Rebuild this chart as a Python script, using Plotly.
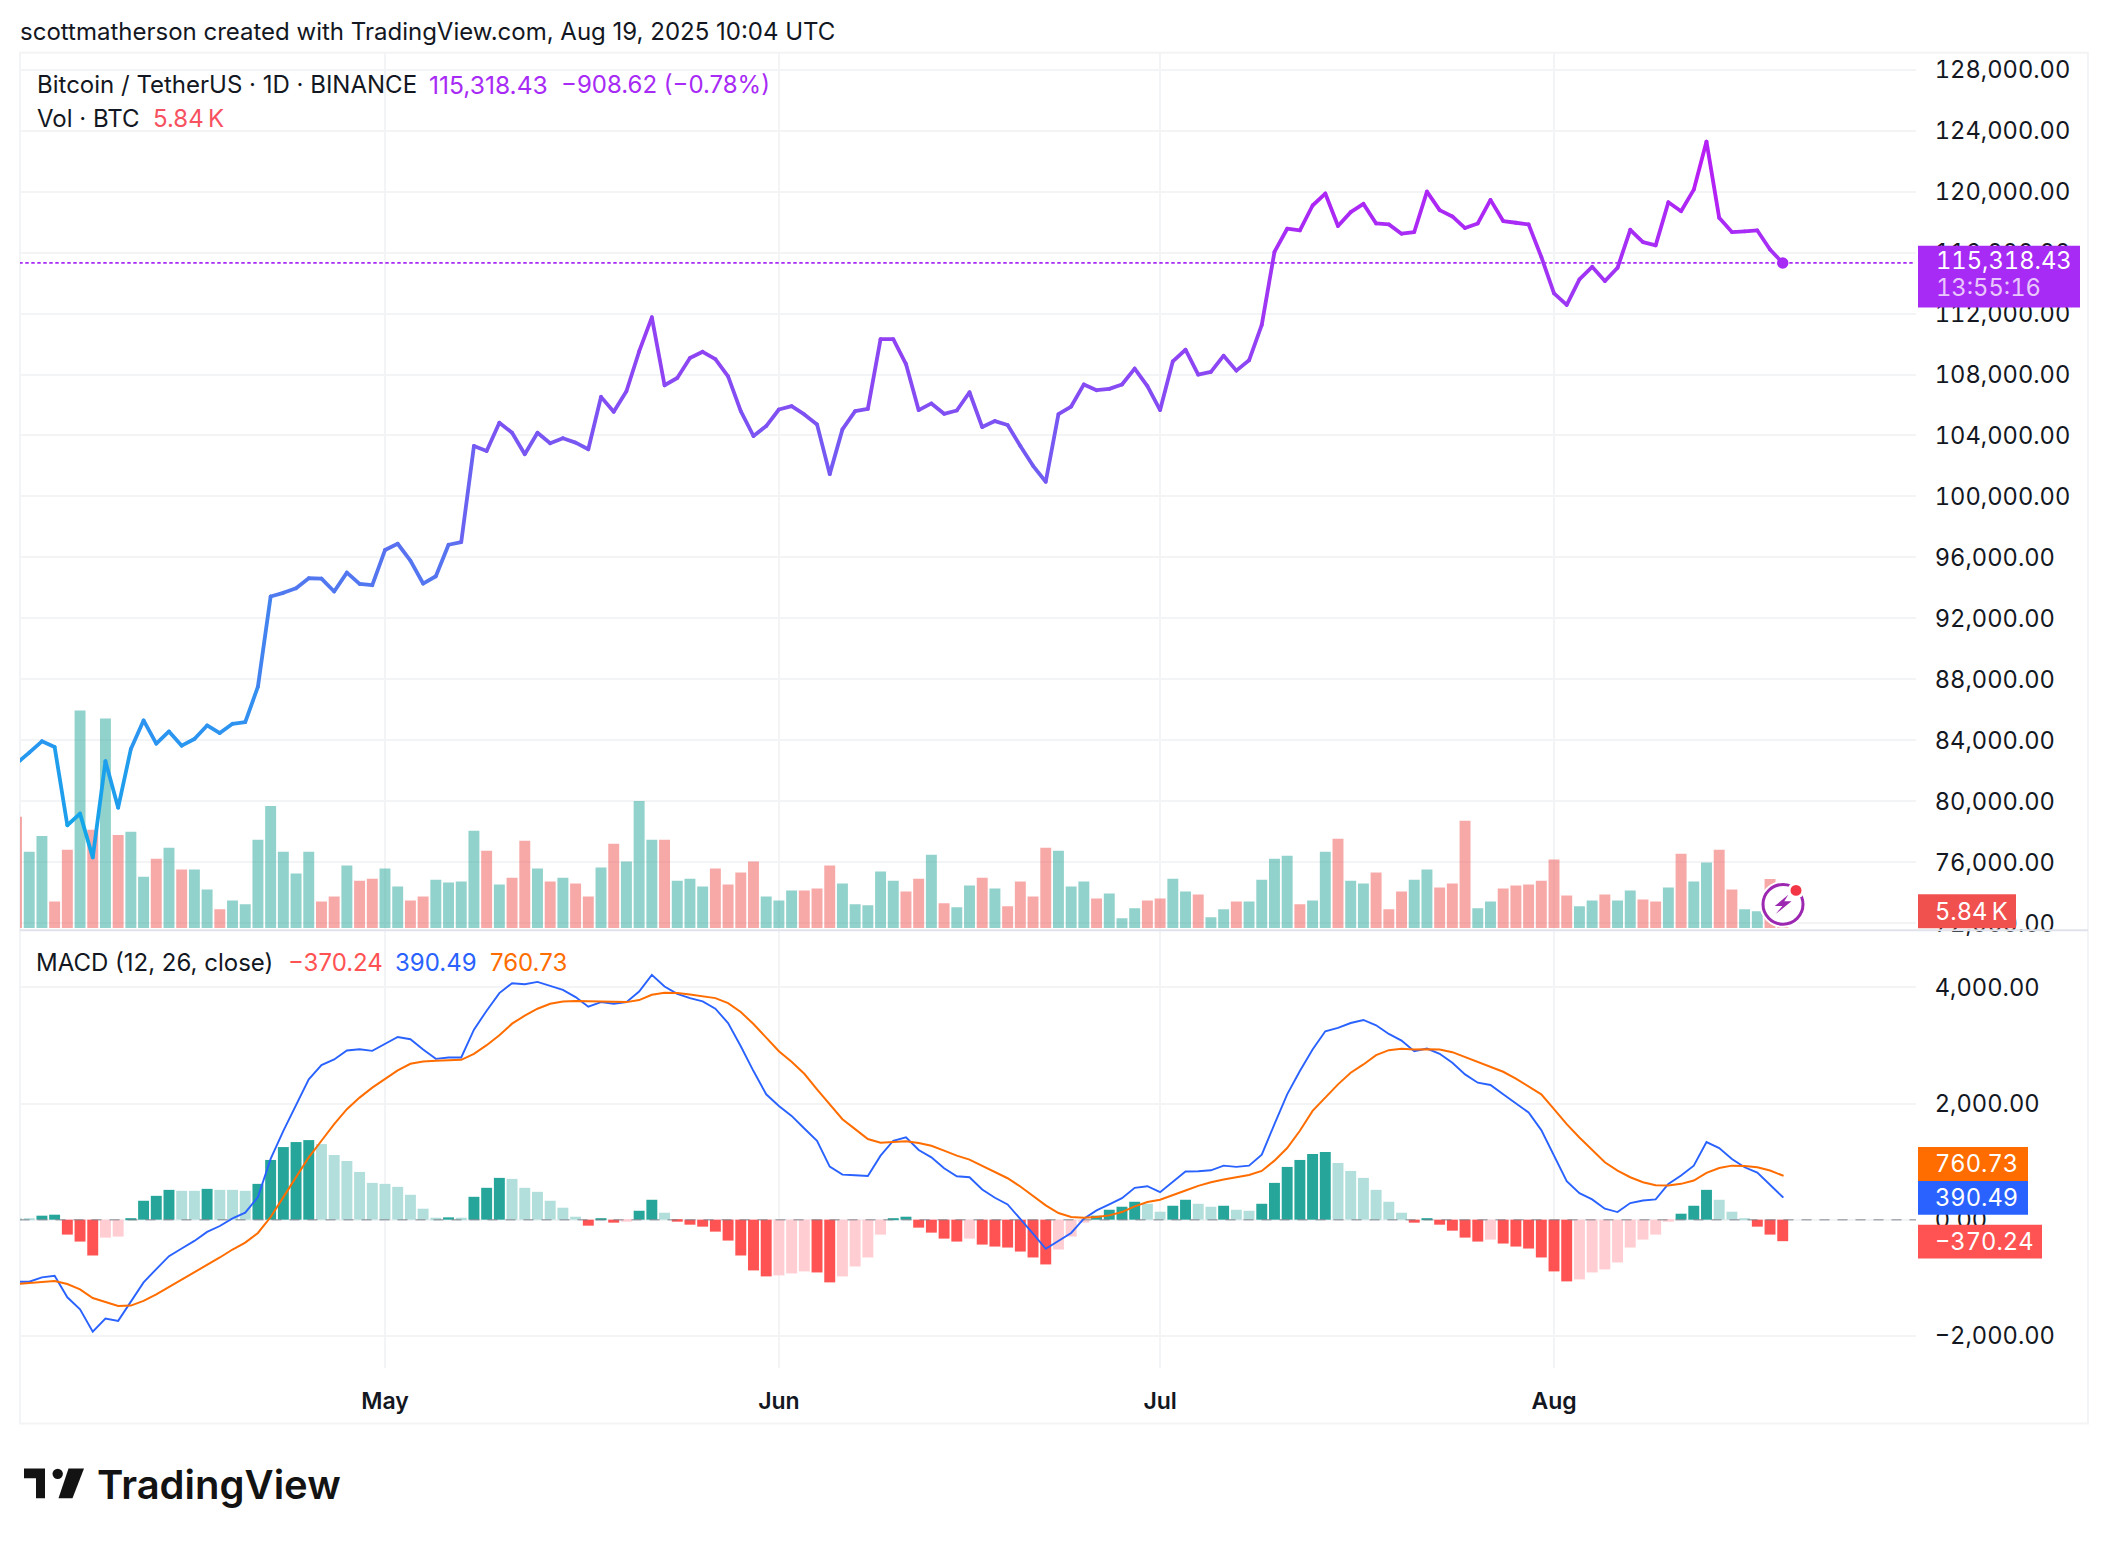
import pandas as pd
import plotly.graph_objects as go

W, H = 2108, 1552

month_ticks = ["2025-05-01", "2025-06-01", "2025-07-01", "2025-08-01"]
month_labels = ["May", "Jun", "Jul", "Aug"]
price_ticks = list(range(72000, 128001, 4000))
macd_ticks = [-2000, 0, 2000, 4000]

# daily closes, 2 Apr to 19 Aug 2025
close_apr = [82478, 83195, 83935, 83565, 78432, 79193, 76322, 82630, 79585, 83435, 85305, 83782, 84587, 83652,
             84087, 84979, 84478, 85088, 85196, 87524, 93440, 93679, 93983, 94636, 94614, 93766, 95006, 94266, 94179]
close_may = [96485, 96898, 95789, 94288, 94766, 96833, 97007, 103314, 102988, 104836, 104184, 102770, 104184, 103488,
             103814, 103532, 103096, 106533, 105554, 106902, 109512, 111753, 107294, 107772, 109078, 109491, 109013,
             107881, 105597, 103966, 104619]
close_jun = [105706, 105924, 105380, 104727, 101465, 104401, 105597, 105750, 110318, 110318, 108686, 105663, 106102,
             105423, 105641, 106837, 104553, 104945, 104684, 103314, 102009, 100965, 105400, 105900, 107350, 106972,
             107059, 107341, 108386, 107233]
close_jul = [105667, 108864, 109625, 107994, 108168, 109234, 108255, 108929, 111256, 116042, 117564, 117455, 119087,
             119870, 117738, 118652, 119195, 117912, 117847, 117238, 117347, 120000, 118782, 118369, 117608, 117912,
             119456, 118064, 117955, 117847, 115715]
close_aug = [113323, 112562, 114236, 115063, 114128, 115000, 117495, 116690, 116472, 119300, 118713, 120127, 123280,
             118278, 117342, 117386, 117451, 116200, 115318.43]

# volume in thousands of BTC
vol_apr = [44.2, 30.3, 36.6, 10.5, 31.1, 86.5, 39.0, 83.3, 37.0, 38.2, 20.4, 27.5, 31.9, 23.2, 23.2, 15.3, 7.4, 10.9,
           9.4, 35.1, 48.5, 30.3, 21.6, 30.3, 10.5, 12.5, 24.8, 18.8, 19.6]
vol_may = [23.6, 16.5, 10.9, 12.5, 19.2, 18.1, 18.5, 38.6, 30.7, 17.3, 20.0, 34.7, 23.6, 18.5, 20.0, 17.7, 12.5, 24.0,
           33.5, 26.4, 50.5, 35.1, 35.1, 18.8, 19.6, 16.5, 23.6, 17.3, 22.0, 26.4, 12.5]
vol_jun = [10.9, 14.9, 14.9, 15.7, 24.8, 17.7, 9.4, 9.0, 22.4, 18.8, 14.5, 19.6, 29.1, 9.8, 8.2, 16.9, 20.0, 15.7, 8.6,
           18.5, 12.5, 31.9, 30.7, 16.5, 18.5, 11.7, 13.7, 3.8, 7.8, 10.9]
vol_jul = [11.7, 19.6, 14.5, 13.3, 4.2, 7.4, 10.5, 10.5, 19.2, 27.5, 28.7, 9.4, 10.9, 30.3, 35.5, 18.8, 17.7, 22.0, 7.4,
           14.5, 19.2, 23.2, 16.1, 17.7, 42.6, 7.8, 10.5, 15.7, 16.9, 17.3, 18.8]
vol_aug = [27.2, 12.9, 8.6, 10.9, 13.3, 10.9, 14.9, 11.3, 10.5, 16.1, 29.5, 18.5, 26.0, 31.1, 15.3, 7.4, 6.6, 19.5, 5.84]
vol_dir = ("rggrrgrgrggrgrggrgggggggrrgrr" "ggrrggggrgrrgrgrrgrgggrgggrrrrg" "ggrrrgggggrrgrggrgrrrrgggrgggr"
           "rggrggrggggrggrggrrrggrrrggrrrr" "rrggrggrrgrggrrggrr")

macd_line = [-1069, -1069, -994, -966, -1337, -1543, -1931, -1703, -1743, -1411, -1080, -851, -629, -497, -366, -211,
             -109, 23, 120, 389, 1046, 1531, 1988, 2417, 2663, 2760, 2914, 2937, 2908,
             3028, 3148, 3108, 2931, 2771, 2794, 2794, 3274, 3600, 3903, 4074, 4057, 4097, 4034, 3960, 3834, 3668,
             3748, 3720, 3748, 3931, 4217, 4017, 3891, 3817, 3760, 3634, 3388, 2988, 2560, 2160,
             1960, 1788, 1571, 1360, 914, 777, 766, 754, 1103, 1360, 1417, 1200, 1074, 886, 749, 731, 520, 377, 263,
             17, -240, -503, -366, -229, 17, 160, 263, 371, 549, 577,
             474, 657, 829, 834, 851, 931, 909, 931, 1120, 1646, 2160, 2560, 2931, 3246, 3303, 3388, 3440, 3348, 3200,
             3086, 2903, 2948, 2857, 2703, 2503, 2360, 2320, 2160, 2000, 1846, 1543,
             1103, 663, 457, 349, 189, 131, 286, 331, 349, 617, 760, 931, 1337, 1234, 1046, 903, 811, 606, 390.49]
signal_line = [-1109, -1097, -1074, -1057, -1109, -1200, -1349, -1417, -1486, -1480, -1400, -1286, -1160, -1029, -897,
               -777, -651, -514, -394, -229, 46, 389, 731, 1074, 1360, 1646, 1903, 2103, 2274,
               2417, 2571, 2686, 2726, 2737, 2743, 2754, 2857, 3006, 3177, 3377, 3514, 3634, 3720, 3760, 3766, 3760,
               3754, 3743, 3748, 3783, 3874, 3908, 3903, 3880, 3851, 3817, 3731, 3577, 3371, 3131,
               2903, 2720, 2514, 2246, 1988, 1731, 1560, 1389, 1326, 1331, 1349, 1320, 1274, 1189, 1103, 1034, 931, 817,
               714, 571, 406, 246, 114, 46, 34, 46, 74, 131, 229, 303,
               343, 417, 503, 583, 646, 691, 731, 771, 840, 1017, 1234, 1531, 1874, 2103, 2331, 2531, 2674, 2834, 2920,
               2943, 2931, 2937, 2931, 2886, 2800, 2720, 2640, 2548, 2428, 2297, 2160,
               1903, 1646, 1417, 1200, 989, 846, 731, 646, 594, 589, 617, 674, 806, 891, 931, 926, 903, 846, 760.73]
histogram = [17, 17, 69, 86, -257, -377, -617, -309, -291, 17, 326, 411, 514, 497, 497, 531, 514, 514, 497, 617, 1029,
             1251, 1337, 1371, 1303, 1114, 1011, 823, 634,
             617, 566, 429, 189, 34, 40, 34, 394, 549, 720, 703, 549, 480, 326, 206, 51, -103, 17, -51, -34, 154, 343,
             120, -34, -86, -120, -206, -360, -617, -874, -977,
             -960, -926, -891, -909, -1080, -977, -806, -651, -257, 17, 51, -137, -223, -326, -377, -326, -429, -463,
             -480, -549, -651, -771, -514, -291, -51, 69, 171, 223, 309, 274,
             137, 240, 343, 274, 223, 240, 171, 154, 274, 634, 909, 1029, 1131, 1166, 977, 840, 720, 514, 309, 120, -51,
             17, -86, -189, -309, -377, -343, -411, -463, -497, -651,
             -891, -1063, -1029, -909, -857, -737, -480, -343, -257, -34, 103, 240, 514, 343, 137, 17, -120, -257, -370.24]

closes = close_apr + close_may + close_jun + close_jul + close_aug
volumes = vol_apr + vol_may + vol_jun + vol_jul + vol_aug
dates = pd.date_range("2025-04-02", "2025-08-19", freq="D")
assert len(dates) == len(closes) == len(volumes) == len(vol_dir) == len(macd_line) == len(signal_line) == len(histogram)
day_strs = [d.strftime("%Y-%m-%d") for d in dates]

# pane geometry (pixels of the 2108x1552 page)
PL, PR, BOX_R = 20, 1916, 2088
TOP, SEP, MACD_B, BOX_B = 53, 935, 1375, 1431
PX_PER_DAY = 12.707
MAY_X = 385
def fx(x): return x / W
def fy(y): return 1 - y / H

t0 = pd.Timestamp("2025-05-01") + pd.Timedelta(days=(PL - MAY_X) / PX_PER_DAY)
t1 = pd.Timestamp("2025-08-01") + pd.Timedelta(days=(PR - 1554) / PX_PER_DAY)
xrange_ = [t0.strftime("%Y-%m-%d %H:%M"), t1.strftime("%Y-%m-%d %H:%M")]

def price_at(y): return 128000 - (y - 70) / 61.29 * 4000
def macd_at(y): return (1226 - y) * 2000 / 116.7

GREEN, RED = "rgba(38,166,154,0.5)", "rgba(239,83,80,0.5)"
INK = "#131722"
PURPLE = "#A72AF5"
GRID = "#F3F4F6"
FONT = "Inter"

stops = [(76000, (12, 172, 232)), (84000, (42, 150, 240)), (96000, (88, 115, 240)), (104000, (122, 85, 242)),
         (112000, (154, 59, 244)), (120000, (175, 37, 245)), (124000, (195, 22, 245))]
def grad(p):
    if p <= stops[0][0]: return "rgb(%d,%d,%d)" % stops[0][1]
    for (a, ca), (b, cb) in zip(stops, stops[1:]):
        if p <= b:
            f = (p - a) / (b - a)
            return "rgb(%d,%d,%d)" % tuple(round(u + (v - u) * f) for u, v in zip(ca, cb))
    return "rgb(%d,%d,%d)" % stops[-1][1]

fig = go.Figure()
fig.add_bar(x=day_strs, y=volumes, width=0.86 * 86400000,
            marker=dict(color=[GREEN if c == "g" else RED for c in vol_dir], line_width=0),
            xaxis="x", yaxis="y", hoverinfo="skip")
fig.add_scatter(x=xrange_, y=[closes[-1]] * 2, mode="lines", xaxis="x", yaxis="y2", hoverinfo="skip",
                line=dict(color=PURPLE, width=1.8, dash="2px,4px"))
for i in range(len(closes) - 1):
    fig.add_scatter(x=day_strs[i:i + 2], y=closes[i:i + 2], mode="lines", xaxis="x", yaxis="y2", hoverinfo="skip",
                    line=dict(color=grad((closes[i] + closes[i + 1]) / 2), width=3.8))
fig.add_scatter(x=day_strs[-1:], y=closes[-1:], mode="markers", xaxis="x", yaxis="y2", hoverinfo="skip",
                marker=dict(color=PURPLE, size=11.5, line_width=0))

hist_colors = []
for i, v in enumerate(histogram):
    prev = histogram[i - 1] if i else v
    if v >= 0:
        hist_colors.append("#26A69A" if v > prev else "#B2DFDB")
    else:
        hist_colors.append("#FF5252" if v < prev else "#FFCDD2")
fig.add_bar(x=day_strs, y=histogram, width=0.86 * 86400000, marker=dict(color=hist_colors, line_width=0),
            xaxis="x2", yaxis="y3", hoverinfo="skip")
fig.add_scatter(x=xrange_, y=[0, 0], mode="lines", xaxis="x2", yaxis="y3", hoverinfo="skip",
                line=dict(color="rgba(120,123,134,0.6)", width=1.5, dash="9px,9px"))
fig.add_scatter(x=day_strs, y=macd_line, mode="lines", xaxis="x2", yaxis="y3", hoverinfo="skip",
                line=dict(color="#2962FF", width=1.9))
fig.add_scatter(x=day_strs, y=signal_line, mode="lines", xaxis="x2", yaxis="y3", hoverinfo="skip",
                line=dict(color="#FF6D00", width=2))

tickfont = dict(family=FONT, size=23.7, color=INK)
yaxis_common = dict(side="right", showline=False, zeroline=False, gridcolor=GRID, gridwidth=1.5,
                    ticks="outside", ticklen=13, tickcolor="rgba(0,0,0,0)", tickfont=tickfont, tickformat=",.2f",
                    tickmode="array")
fig.update_layout(
    width=W, height=H, autosize=False, margin=dict(l=0, r=0, t=0, b=0), showlegend=False,
    paper_bgcolor="white", plot_bgcolor="white", hovermode=False,
    xaxis=dict(domain=[fx(PL), fx(PR)], range=xrange_, type="date", anchor="y", tickmode="array",
               tickvals=month_ticks, ticktext=month_labels, showticklabels=False, ticks="", showline=False,
               gridcolor=GRID, gridwidth=1.5, zeroline=False),
    yaxis=dict(domain=[fy(SEP - 1), fy(TOP)], range=[-0.5, 348], visible=False, anchor="x"),
    yaxis2=dict(overlaying="y", anchor="x", range=[price_at(SEP - 1), price_at(TOP)], tickvals=price_ticks,
                **yaxis_common),
    xaxis2=dict(domain=[fx(PL), fx(PR)], range=xrange_, type="date", anchor="y3", tickmode="array",
                tickvals=month_ticks, ticktext=month_labels, ticks="outside", ticklen=12,
                tickcolor="rgba(0,0,0,0)", showline=False, gridcolor=GRID, gridwidth=1.5, zeroline=False,
                tickfont=dict(family=FONT, size=23, color=INK, weight=600)),
    yaxis3=dict(domain=[fy(MACD_B), fy(SEP + 1)], anchor="x2", range=[macd_at(MACD_B), macd_at(SEP + 1)],
                tickvals=macd_ticks, **yaxis_common),
)

shapes = [
    dict(type="rect", xref="paper", yref="paper", x0=fx(PL), x1=fx(BOX_R), y0=fy(BOX_B), y1=fy(TOP),
         line=dict(color=GRID, width=2), layer="below"),
    dict(type="line", xref="paper", yref="paper", x0=fx(PL), x1=fx(BOX_R), y0=fy(SEP), y1=fy(SEP),
         line=dict(color="#E0E3EB", width=2), layer="above"),
]
def box(x0, x1, y0, y1, color):
    shapes.append(dict(type="rect", xref="paper", yref="paper", x0=fx(x0), x1=fx(x1), y0=fy(y1), y1=fy(y0),
                       fillcolor=color, line_width=0, layer="above"))
box(1918, 2080, 247, 309, PURPLE)
box(1918, 2016, 899, 933, "#F0504E")
box(1918, 2028, 1153, 1187, "#FF6D00")
box(1918, 2028, 1187, 1221, "#2962FF")
box(1918, 2042, 1231, 1265, "#FF5252")

def path(points):
    return "M " + " L ".join("%.5f,%.5f" % (fx(x), fy(y)) for x, y in points) + " Z"
def circle(cx, cy, r, fill, line=None, lw=0):
    shapes.append(dict(type="circle", xref="paper", yref="paper", x0=fx(cx - r), x1=fx(cx + r), y0=fy(cy + r),
                       y1=fy(cy - r), fillcolor=fill, line=dict(color=line or fill, width=lw), layer="above"))
# lightning badge
circle(1783, 909, 23.5, "white")
circle(1783, 909, 20, "white", "#9C27B0", 3)
shapes.append(dict(type="path", xref="paper", yref="paper", layer="above", fillcolor="#9C27B0", line_width=0,
                   path=path([(1788.3, 899.3), (1774.8, 910.7), (1782.4, 910.7), (1775.7, 918.7), (1791.5, 906),
                              (1784.3, 906)])))
circle(1796, 895, 8.5, "white")
circle(1796, 895, 5.5, "#F23645")
# TradingView mark
LOGO = "#131313"
shapes.append(dict(type="path", xref="paper", yref="paper", layer="above", fillcolor=LOGO, line_width=0,
                   path=path([(24, 1476), (45, 1476), (45, 1506), (36, 1506), (36, 1486), (24, 1486)])))
circle(57.7, 1481.5, 5.2, LOGO)
shapes.append(dict(type="path", xref="paper", yref="paper", layer="above", fillcolor=LOGO, line_width=0,
                   path=path([(68.5, 1476), (84, 1476), (72.5, 1506), (58.5, 1506)])))
fig.update_layout(shapes=shapes)

def label(text, x, y, color=INK, size=24, weight=None):
    fig.add_annotation(text=text, x=fx(x), y=fy(y), xref="paper", yref="paper", xanchor="left", yanchor="middle",
                       showarrow=False, align="left", borderpad=0, borderwidth=0,
                       font=dict(family=FONT, size=size, color=color, weight=weight))

label("scottmatherson created with TradingView.com, Aug 19, 2025 10:04 UTC", 20, 32)
label("Bitcoin / TetherUS · 1D · BINANCE", 37, 85)
label("115,318.43", 429, 85, PURPLE, 24.6)
label("−908.62 (−0.78%)", 561, 85, PURPLE)
label("Vol · BTC", 37, 119)
label("5.84\u2009K", 153, 119, "#F7525F")
label("MACD (12, 26, close)", 36, 967)
label("−370.24", 288, 967, "#FF5252")
label("390.49", 395, 967, "#2962FF")
label("760.73", 490, 967, "#FF6D00")
label("115,318.43", 1936, 262, "white", 23.7)
label("13:55:16", 1936, 289, "#E9C7FC", 23.7)
label("5.84\u2009K", 1935, 916, "white", 23.7)
label("760.73", 1935, 1170, "white", 23.7)
label("390.49", 1935, 1204, "white", 23.7)
label("−370.24", 1935, 1248, "white", 23.7)
label("TradingView", 97, 1492, LOGO, 40, 600)

fig.write_html("out.html", config={"displayModeBar": False}, post_script=(
    "document.documentElement.style.cssText='margin:0;padding:0;height:1552px;overflow:hidden';"
    "document.body.style.cssText='margin:0;padding:0;height:1552px;overflow:hidden';"
    "var st=document.createElement('style');"
    "st.textContent='.y2tick text,.y3tick text{font-feature-settings:\"tnum\"}';"
    "document.head.appendChild(st);"
    "document.querySelectorAll('.annotation').forEach(function(a){var i=+a.getAttribute('data-index');"
    "if(i>=10&&i<=15){a.querySelector('text').style.fontFeatureSettings='\"tnum\"';}});"
    "document.querySelectorAll('.scatterlayer .js-line').forEach(function(l){l.style.strokeLinecap='round';});"
))
